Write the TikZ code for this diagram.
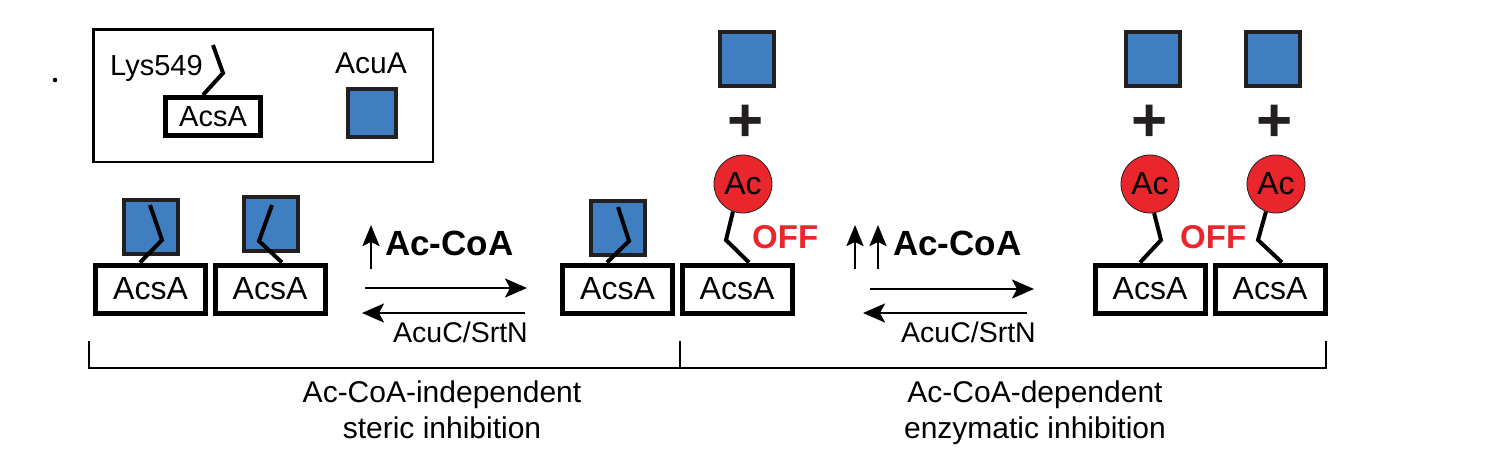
\documentclass[tikz,border=0pt]{standalone}
\usepackage{fontspec}
\setmainfont{Liberation Sans}
\usetikzlibrary{arrows.meta}
\definecolor{acuablue}{RGB}{62,126,193}
\definecolor{acred}{RGB}{232,38,43}
\definecolor{ink}{RGB}{35,31,32}
\begin{document}
\begin{tikzpicture}[x=1pt,y=-1pt,
  acsbox/.style={draw=black, line width=5pt, fill=white, minimum width=110pt, minimum height=48pt, inner sep=0pt, font=\fontsize{32}{38}\selectfont},
  acua/.style={draw=ink, line width=4pt, fill=acuablue, minimum size=54pt, inner sep=0pt},
  acetyl/.style={circle, draw=ink, line width=0.8pt, fill=acred, minimum size=58pt, inner sep=0pt, font=\fontsize{32}{38}\selectfont},
  chain/.style={line width=4pt, line join=miter, line cap=butt},
  rxn/.style={line width=2.5pt, -{Stealth[length=22pt,width=19pt,inset=5pt]}},
  uparrow/.style={line width=2.5pt, -{Stealth[length=21pt,width=17pt,inset=4pt]}},
  plussign/.style={font=\fontsize{62}{70}\selectfont\bfseries, text=ink, inner sep=0pt},
  lbl/.style={inner sep=0pt, font=\fontsize{30}{36}\selectfont},
  small/.style={inner sep=0pt, font=\fontsize{28.5}{34}\selectfont},
  coa/.style={inner sep=0pt, font=\fontsize{35}{40}\selectfont\bfseries},
  off/.style={inner sep=0pt, text=acred, font=\fontsize{33}{38}\selectfont\bfseries},
  bracket/.style={line width=2.5pt}
]
\useasboundingbox (0,0) rectangle (1491,448);

% dot
\fill (55,80) circle (2.3pt);

% legend
\node[draw, line width=2.5pt, minimum width=339.5pt, minimum height=132.5pt, inner sep=0pt] (legend) at (263,95.5) {};
\node[acsbox, minimum width=95pt, minimum height=38pt, font=\fontsize{29}{34}\selectfont] (lbox) at (213,116.5) {AcsA};
\coordinate (lk) at (223,73);
\coordinate (le) at (213,45);
\draw[chain] ([xshift=-10pt]lbox.north) -- (lk) -- (le);
\node[lbl, anchor=base west, font=\fontsize{29}{34}\selectfont] (lys) at (110,75) {Lys549};
\node[lbl, anchor=base] (acualbl) at (371,73) {AcuA};
\node[acua, minimum size=48pt] (lsq) at (372,112.5) {};

% first group
\node[acsbox] (b1) at (150.5,289) {AcsA};
\node[acsbox] (b2) at (270,289) {AcsA};
\node[acua] (s1) at (150.5,227) {};
\node[acua] (s2) at (270.5,224) {};
\coordinate (k1) at (162,240); \coordinate (e1) at (150,205);
\draw[chain] ([xshift=-10.5pt]b1.north) -- (k1) -- (e1);
\coordinate (k2) at (259,241); \coordinate (e2) at (272,205);
\draw[chain] ([xshift=12pt]b2.north) -- (k2) -- (e2);

% first reaction arrows
\coordinate (u1s) at (371,269); \coordinate (u1e) at (371,225);
\draw[uparrow] (u1s) -- (u1e);
\node[coa, anchor=base west] (coa1) at (385,255) {Ac-CoA};
\coordinate (f1s) at (365,288); \coordinate (f1e) at (527,288);
\draw[rxn] (f1s) -- (f1e);
\coordinate (r1s) at (525,313); \coordinate (r1e) at (362,313);
\draw[rxn] (r1s) -- (r1e);
\node[small, anchor=base west] (acuc1) at (393,342) {AcuC/SrtN};

% middle
\node[acsbox] (b3) at (617.5,289) {AcsA};
\node[acsbox] (b4) at (737,289) {AcsA};
\node[acua] (s3) at (617.5,228) {};
\coordinate (k3) at (629,241); \coordinate (e3) at (618,207);
\draw[chain] ([xshift=-10.5pt]b3.north) -- (k3) -- (e3);
\node[acua] (t1) at (746.5,58.5) {};
\node[plussign] (p1) at (746,123) {+};
\coordinate (k4) at (726,240);
\node[acetyl] (ac1) at (743,184) {Ac};
\draw[chain] ([xshift=12pt]b4.north) -- (k4) -- (ac1.250);
\node[off, anchor=base west] (off1) at (752,248) {OFF};

% second reaction arrows
\coordinate (u2s) at (855,269); \coordinate (u2e) at (855,225);
\draw[uparrow] (u2s) -- (u2e);
\coordinate (u3s) at (878,269); \coordinate (u3e) at (878,225);
\draw[uparrow] (u3s) -- (u3e);
\node[coa, anchor=base west] (coa2) at (893,255) {Ac-CoA};
\coordinate (f2s) at (870,289); \coordinate (f2e) at (1034,289);
\draw[rxn] (f2s) -- (f2e);
\coordinate (r2s) at (1027,313); \coordinate (r2e) at (863,313);
\draw[rxn] (r2s) -- (r2e);
\node[small, anchor=base west] (acuc2) at (901,342) {AcuC/SrtN};

% right group
\node[acsbox] (b5) at (1150,289) {AcsA};
\node[acsbox] (b6) at (1270,289) {AcsA};
\node[acua] (t2) at (1153,58.5) {};
\node[acua] (t3) at (1273,58.5) {};
\node[plussign] (p2) at (1150,123) {+};
\node[plussign] (p3) at (1275,123) {+};
\node[acetyl] (ac2) at (1150,184) {Ac};
\node[acetyl] (ac3) at (1276,184) {Ac};
\coordinate (k5) at (1161,240);
\draw[chain] ([xshift=-10pt]b5.north) -- (k5) -- (ac2.278);
\coordinate (k6) at (1258,240);
\draw[chain] ([xshift=12pt]b6.north) -- (k6) -- (ac3.250);
\node[off, anchor=base west] (off2) at (1180,248) {OFF};

% brackets
\coordinate (bl) at (89,341); \coordinate (bm) at (680,341); \coordinate (br) at (1326,341);
\coordinate (bmb) at (680,368);
\draw[bracket] (bl) |- (br |- bmb) -- (br);
\draw[bracket] (bm) -- (bmb);

\node[lbl, anchor=base] (t1a) at (442,402) {Ac-CoA-independent};
\node[lbl, anchor=base] (t1b) at (442,438) {steric inhibition};
\node[lbl, anchor=base] (t2a) at (1035,402) {Ac-CoA-dependent};
\node[lbl, anchor=base] (t2b) at (1035,438) {enzymatic inhibition};
\end{tikzpicture}
\end{document}
